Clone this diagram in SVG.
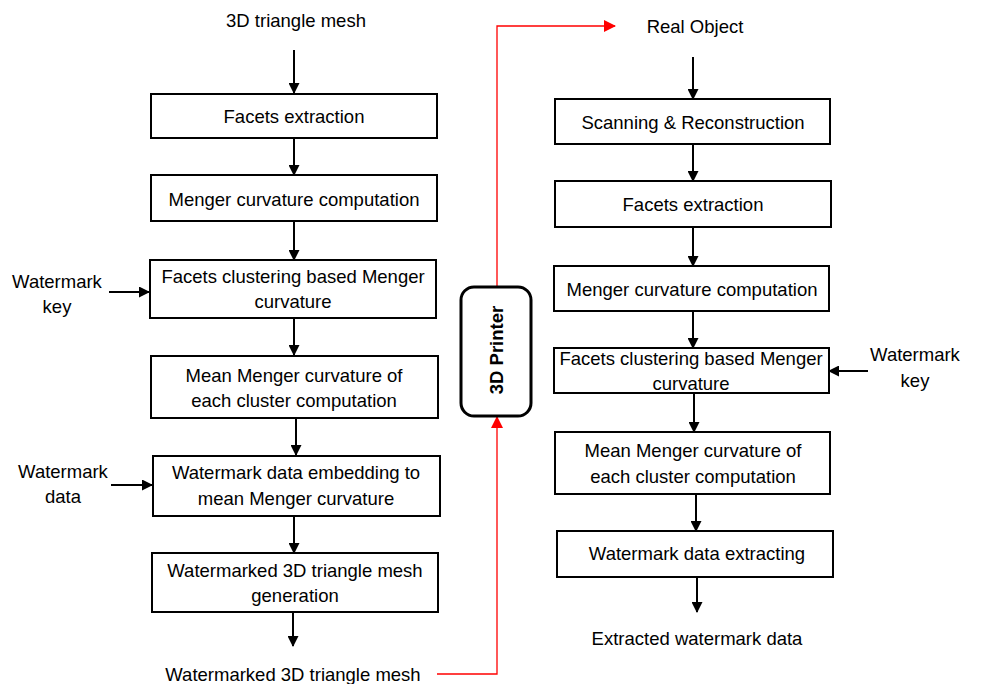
<svg xmlns="http://www.w3.org/2000/svg" width="985" height="684" viewBox="0 0 985 684">
<defs>
<style>
.box{fill:#fff;stroke:#000;stroke-width:2}
.t{font-family:"Liberation Sans",Arial,sans-serif;font-size:18.5px;fill:#000;text-anchor:middle}
.c{stroke:#000;stroke-width:2;fill:none}
.r{stroke:#f00;stroke-width:1.3;fill:none}
</style>
<marker id="ah" markerWidth="11" markerHeight="11" refX="10" refY="5.5" orient="auto" markerUnits="userSpaceOnUse">
<path d="M0,0 L11,5.5 L0,11 Z" fill="#000"/>
</marker>
<marker id="rh" markerWidth="12" markerHeight="12" refX="11" refY="6" orient="auto" markerUnits="userSpaceOnUse">
<path d="M0,0 L12,6 L0,12 Z" fill="#f00"/>
</marker>
</defs>
<rect width="985" height="684" fill="#fff"/>
<g id="connectors">
<line class="c" x1="294" y1="50" x2="294" y2="93" marker-end="url(#ah)"/>
<line class="c" x1="294" y1="138" x2="294" y2="175" marker-end="url(#ah)"/>
<line class="c" x1="294" y1="221" x2="294" y2="260" marker-end="url(#ah)"/>
<line class="c" x1="109" y1="292" x2="149" y2="292" marker-end="url(#ah)"/>
<line class="c" x1="294" y1="318" x2="294" y2="355" marker-end="url(#ah)"/>
<line class="c" x1="296" y1="418" x2="296" y2="455" marker-end="url(#ah)"/>
<line class="c" x1="111" y1="485" x2="152" y2="485" marker-end="url(#ah)"/>
<line class="c" x1="294" y1="516" x2="294" y2="553" marker-end="url(#ah)"/>
<line class="c" x1="293" y1="612" x2="293" y2="646" marker-end="url(#ah)"/>
<polyline class="r" points="437,674 497,674 497,417" marker-end="url(#rh)"/>
<polyline class="r" points="497,286 497,26 615,26" marker-end="url(#rh)"/>
<line class="c" x1="693" y1="57" x2="693" y2="99" marker-end="url(#ah)"/>
<line class="c" x1="693" y1="144" x2="693" y2="181" marker-end="url(#ah)"/>
<line class="c" x1="693" y1="227" x2="693" y2="266" marker-end="url(#ah)"/>
<line class="c" x1="693" y1="311" x2="693" y2="348" marker-end="url(#ah)"/>
<line class="c" x1="868" y1="371" x2="829" y2="371" marker-end="url(#ah)"/>
<line class="c" x1="694" y1="393" x2="694" y2="432" marker-end="url(#ah)"/>
<line class="c" x1="696" y1="494" x2="696" y2="531" marker-end="url(#ah)"/>
<line class="c" x1="697" y1="577" x2="697" y2="612" marker-end="url(#ah)"/>
</g>
<g id="lbl-input"><text class="t" x="296" y="27">3D triangle mesh</text></g>
<g id="lbl-key-left"><text class="t" x="57" y="288">Watermark</text><text class="t" x="57" y="313">key</text></g>
<g id="lbl-data-left"><text class="t" x="63" y="478">Watermark</text><text class="t" x="63" y="503">data</text></g>
<g id="lbl-output"><text class="t" x="293" y="681">Watermarked 3D triangle mesh</text></g>
<g id="L1"><rect class="box" x="151" y="94" width="286" height="44"/><text class="t" x="294" y="123">Facets extraction</text></g>
<g id="L2"><rect class="box" x="151" y="175" width="286" height="46"/><text class="t" x="294" y="206">Menger curvature computation</text></g>
<g id="L3"><rect class="box" x="150" y="260" width="286" height="58"/><text class="t" x="293" y="283">Facets clustering based Menger</text><text class="t" x="293" y="308">curvature</text></g>
<g id="L4"><rect class="box" x="151" y="356" width="287" height="62"/><text class="t" x="294" y="382">Mean Menger curvature of</text><text class="t" x="294" y="407">each cluster computation</text></g>
<g id="L5"><rect class="box" x="153" y="456" width="287" height="60"/><text class="t" x="296" y="479">Watermark data embedding to</text><text class="t" x="296" y="505">mean Menger curvature</text></g>
<g id="L6"><rect class="box" x="152" y="553" width="286" height="59"/><text class="t" x="295" y="577">Watermarked 3D triangle mesh</text><text class="t" x="295" y="602">generation</text></g>
<g id="printer"><rect x="461" y="287" width="70" height="129" rx="13" ry="13" fill="#fff" stroke="#000" stroke-width="3"/><text class="t" x="0" y="0" font-weight="bold" font-size="17" transform="translate(503,350) rotate(-90)">3D Printer</text></g>
<g id="lbl-real"><text class="t" x="695" y="33">Real Object</text></g>
<g id="lbl-key-right"><text class="t" x="915" y="361">Watermark</text><text class="t" x="915" y="387">key</text></g>
<g id="lbl-extracted"><text class="t" x="697" y="645">Extracted watermark data</text></g>
<g id="R1"><rect class="box" x="555" y="99" width="275" height="45"/><text class="t" x="693" y="129">Scanning &amp; Reconstruction</text></g>
<g id="R2"><rect class="box" x="555" y="181" width="276" height="46"/><text class="t" x="693" y="211">Facets extraction</text></g>
<g id="R3"><rect class="box" x="554" y="266" width="275" height="45"/><text class="t" x="692" y="296">Menger curvature computation</text></g>
<g id="R4"><rect class="box" x="554" y="348" width="275" height="45"/><text class="t" x="691" y="365">Facets clustering based Menger</text><text class="t" x="691" y="390">curvature</text></g>
<g id="R5"><rect class="box" x="555" y="432" width="275" height="62"/><text class="t" x="693" y="457">Mean Menger curvature of</text><text class="t" x="693" y="483">each cluster computation</text></g>
<g id="R6"><rect class="box" x="557" y="531" width="276" height="46"/><text class="t" x="697" y="560">Watermark data extracting</text></g>
</svg>
